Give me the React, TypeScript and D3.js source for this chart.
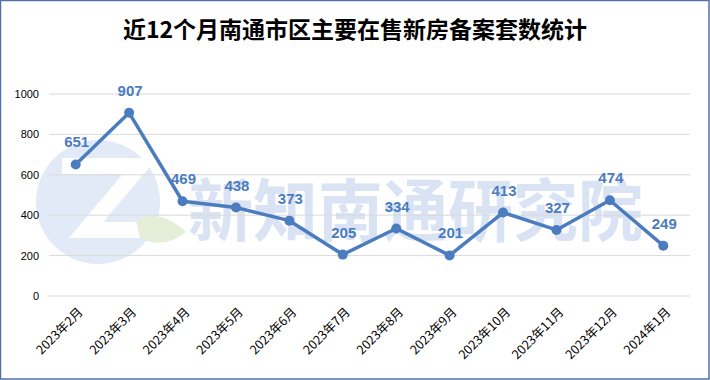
import React from "react";
import * as d3 from "d3";

const categories = ["2023年2月","2023年3月","2023年4月","2023年5月","2023年6月","2023年7月","2023年8月","2023年9月","2023年10月","2023年11月","2023年12月","2024年1月"];
const values = [651, 907, 469, 438, 373, 205, 334, 201, 413, 327, 474, 249];
const yTicks = [0, 200, 400, 600, 800, 1000];
const title = "近12个月南通市区主要在售新房备案套数统计";
const watermark = "新知南通研究院";

const W = 710, H = 380;
const margin = { left: 49, right: 20, top: 94, bottom: 84 };
const LINE = "#4a7cbf";

export default function App() {
  const x = d3.scaleBand<string>().domain(categories).range([margin.left, W - margin.right]);
  const y = d3.scaleLinear().domain([0, 1000]).range([H - margin.bottom, margin.top]);
  const line = d3.line<number>().x((_, i) => (x(categories[i]) as number) + x.bandwidth() / 2).y((d) => y(d));
  const cx = (i: number) => (x(categories[i]) as number) + x.bandwidth() / 2;
  const font = "'Microsoft YaHei','Noto Sans CJK SC',sans-serif";
  return (
    <div style={{ position: "absolute", left: 0, top: 0 }}>
      <svg width={W} height={H} style={{ display: "block" }} fontFamily={font}>
        <rect x={0.5} y={0.5} width={W - 1.5} height={H - 1.5} fill="#fff" stroke="#4f73a8" strokeWidth={1.5} />
        <text x={W / 2} y={38} textAnchor="middle" fontSize={23} fontWeight="bold" fill="#000">{title}</text>
        {/* watermark */}
        <g>
          <circle cx={98} cy={202} r={62} fill="#e3eaf7" />
          <path d="M62,166 L140,166 L86,230 L150,230" fill="none" stroke="#ffffff" strokeWidth={16} strokeLinejoin="miter" />
          <path d="M136,220 Q160,208 186,232 Q164,250 140,238 Z" fill="#e4eed9" />
          <text x={188} y={236} fontSize={68} fontWeight="bold" fill="#dae3f3" textLength={455} lengthAdjust="spacingAndGlyphs">{watermark}</text>
        </g>
        {yTicks.map((t) => (
          <g key={t}>
            <line x1={margin.left} x2={W - margin.right} y1={y(t)} y2={y(t)} stroke="#d9d9d9" strokeWidth={1} />
            <text x={39} y={y(t) + 4} textAnchor="end" fontSize={11} fill="#000" fontFamily="'Liberation Sans',Arial,sans-serif">{t}</text>
          </g>
        ))}
        <path d={line(values) || ""} fill="none" stroke={LINE} strokeWidth={3.5} strokeLinejoin="round" />
        {values.map((v, i) => (
          <g key={i}>
            <circle cx={cx(i)} cy={y(v)} r={5} fill={LINE} />
            <text x={cx(i) + 1} y={y(v) - 17} textAnchor="middle" fontSize={15} fontWeight="bold" fill={LINE} fontFamily="'Liberation Sans',Arial,sans-serif">{v}</text>
          </g>
        ))}
        {categories.map((c, i) => (
          <text key={c} transform={`translate(${cx(i) + 8},${H - margin.bottom + 17}) rotate(-45)`} textAnchor="end" fontSize={12.5} fill="#000">{c}</text>
        ))}
      </svg>
    </div>
  );
}
